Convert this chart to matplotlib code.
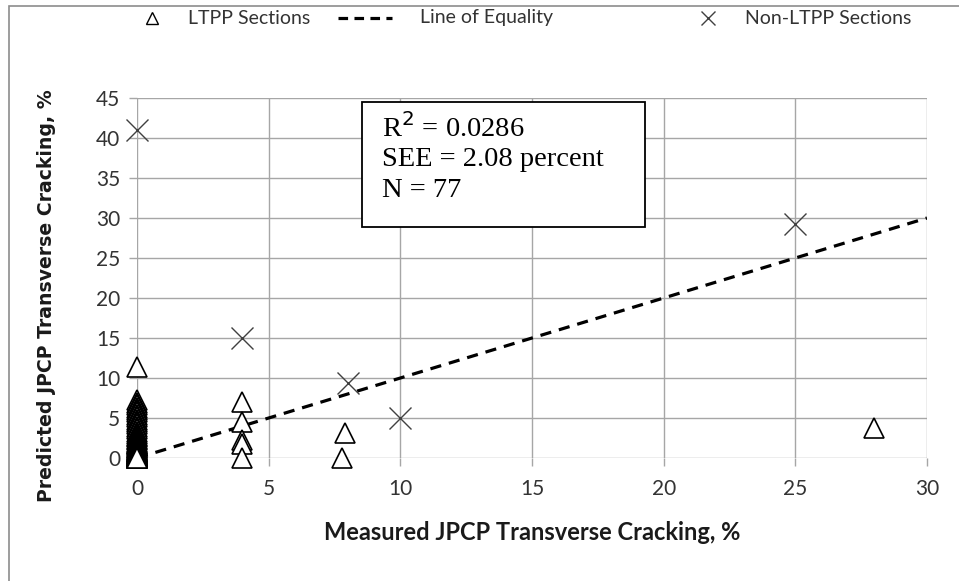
import matplotlib.pyplot as plt
from matplotlib.lines import Line2D
from matplotlib.patches import Rectangle

# measured vs predicted transverse cracking (%)
ltpp_x = [0] * 64 + [4, 4, 4, 4, 4, 7.9, 7.8, 28]
ltpp_y = [11.4, 7.2, 6.9, 6.6, 6.3, 6.0, 5.7, 5.4, 5.1, 4.8, 4.5, 4.2, 3.9, 3.6,
          3.3, 3.0, 2.8, 2.6, 2.4, 2.2, 2.0, 1.9, 1.8, 1.7, 1.6, 1.5, 1.4, 1.3,
          1.2, 1.1, 1.0, 0.95, 0.9, 0.85, 0.8, 0.75, 0.7, 0.65, 0.6, 0.55, 0.5,
          0.45, 0.4, 0.35, 0.3, 0.28, 0.25, 0.22, 0.2, 0.18, 0.15, 0.12, 0.1,
          0.08, 0.06, 0.05, 0.04, 0.03, 0.02, 0.01, 0.0, 0.0, 0.0, 0.0,
          7.0, 4.5, 2.2, 1.7, 0.0, 3.1, 0.0, 3.8]
non_x = [0, 4, 8, 10, 25]
non_y = [41, 15, 9.4, 5, 29.2]
eq_x = [0, 30]
eq_y = [0, 30]

stats = ["R$^2$ = 0.0286", "SEE = 2.08 percent", "N = 77"]
legend_labels = ['LTPP Sections', 'Line of Equality', 'Non-LTPP Sections']

plt.rcParams['font.family'] = ['Lato', 'DejaVu Sans']

fig = plt.figure(figsize=(9.59, 5.81), dpi=100)
ax = fig.add_axes([0.1429, 0.2117, 0.8237, 0.6196])

grid_c = '#a6a6a6'
ax.set_xlim(0, 30)
ax.set_ylim(0, 45)
ax.set_xticks(range(0, 31, 5))
ax.set_yticks(range(0, 46, 5))
ax.grid(True, color=grid_c, linewidth=1.0)
for s in ax.spines.values():
    s.set_visible(False)
ax.tick_params(length=6, width=1.0, color=grid_c, labelsize=15, labelcolor='#333333')
ax.tick_params(axis='x', pad=9)
ax.tick_params(axis='y', pad=6)
ax.set_axisbelow(True)

ax.plot(eq_x, eq_y, color='black', linestyle=(0, (3.5, 2.5)), linewidth=2.3, zorder=2)
ax.plot(ltpp_x, ltpp_y, linestyle='none', marker='^', markersize=14.5,
        markerfacecolor='white', markeredgecolor='black', markeredgewidth=1.2,
        clip_on=False, zorder=3)
ax.plot(non_x, non_y, linestyle='none', marker='x', markersize=15.5,
        color='#404040', markeredgewidth=1.0, clip_on=False, zorder=3)

# statistics box
ax.add_patch(Rectangle((8.56, 28.9), 10.74, 15.6, facecolor='white', edgecolor='black',
                       linewidth=1.3, zorder=5))
for row, yv in zip(stats, [41.3, 37.3, 33.5]):
    ax.text(9.3, yv, row, va='center', ha='left', fontsize=20.5,
            family='Liberation Serif', zorder=6)

ax.set_xlabel('Measured JPCP Transverse Cracking, %', fontsize=17, fontweight='bold',
              family='Lato', color='#1a1a1a')
ax.xaxis.set_label_coords(0.5, -0.175)
ax.set_ylabel('Predicted JPCP Transverse Cracking, %', fontsize=13.6, fontweight='bold',
              family='DejaVu Sans', color='#1a1a1a')
ax.yaxis.set_label_coords(-0.103, 0.45)

# legend row across the top
W, H = 959.0, 581.0
ly = 1 - 18 / H
fig.add_artist(Line2D([152 / W], [ly], linestyle='none', marker='^', markersize=9,
                      markerfacecolor='white', markeredgecolor='black', markeredgewidth=1.0))
fig.add_artist(Line2D([338 / W, 392 / W], [ly, ly], color='black',
                      linestyle=(0, (3, 2)), linewidth=2.3))
fig.add_artist(Line2D([708 / W], [ly], linestyle='none', marker='x', markersize=10,
                      color='#404040', markeredgewidth=1.0))
for lx, lab in zip([188, 420, 745], legend_labels):
    fig.text(lx / W, ly, lab, va='center', ha='left', fontsize=14, color='#333333')

fig.patches.append(Rectangle((9 / W, -0.02), 1.2, 1 - 6 / H + 0.02, transform=fig.transFigure,
                             fill=False, edgecolor='#8c8c8c', linewidth=1.2))

fig.savefig('out.png', dpi=100)
